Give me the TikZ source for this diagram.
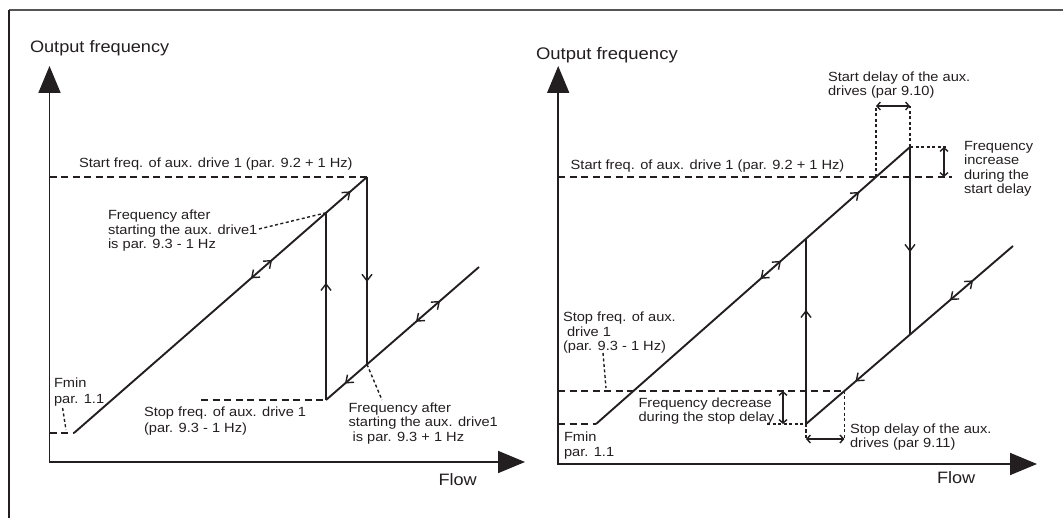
\documentclass[tikz,border=0pt]{standalone}
\usepackage{fontspec}
\setmainfont[FakeStretch=1.1]{Liberation Sans}
\usetikzlibrary{arrows.meta,decorations.markings}

\begin{document}
\begin{tikzpicture}[x=1pt,y=-1pt,
  ink/.style={draw={rgb,255:red,35;green,31;blue,32}},
  lbl/.style={inner sep=0pt,outer sep=0pt,anchor=base west,text={rgb,255:red,35;green,31;blue,32},font=\fontsize{13.3}{15}\selectfont},
  ttl/.style={lbl,font=\fontsize{16.5}{19}\selectfont},
  axes/.style={ink,line width=1.8pt,{Triangle[length=27pt,width=22pt]}-{Triangle[length=27pt,width=22pt]}},
  ramp/.style={ink,line width=1.9pt},
  jump/.style={ink,line width=1.6pt},
  lvl/.style={ink,line width=1.5pt,dash pattern=on 7pt off 4.5pt},
  hint/.style={ink,line width=1.4pt,dash pattern=on 3pt off 2.5pt},
  delay/.style={ink,line width=1.4pt,{Straight Barb[length=3.5pt,width=8pt]}-{Straight Barb[length=3.5pt,width=8pt]}},
  fwd/.style={postaction={decorate,decoration={markings,mark=at position #1 with {\arrow{Straight Barb[length=6.5pt,width=10pt,line width=1.4pt]}}}}},
  bwd/.style={postaction={decorate,decoration={markings,mark=at position #1 with {\arrowreversed{Straight Barb[length=6.5pt,width=10pt,line width=1.4pt]}}}}}]
\path[use as bounding box] (0,0) rectangle (1063,518);
\draw[line width=1.8pt,draw={rgb,255:red,85;green,85;blue,85}] (9,10) -- (1063,10);
\draw[ink,line width=1.3pt] (9,10) -- (9,518);
% left panel
\coordinate (ly) at (49.5,66);
\coordinate (lo) at (49.5,462);
\coordinate (lx) at (525,462);
\coordinate (lfmin) at (74,433);
\coordinate (ltop) at (367,177);
\coordinate (lbot) at (367,364.4);
\coordinate (lstop) at (326,400);
\coordinate (lhit) at (326,212.8);
\coordinate (lend) at (479,267);
\draw[axes] (ly) -- (lo) -- (lx);
\draw[lvl] (49.5,433) -- (lfmin);
\draw[lvl] (49.5,177) -- (ltop);
\draw[lvl] (201,400) -- (lstop);
\draw[ramp,bwd=0.604,fwd=0.676,fwd=0.944] (lfmin) -- (ltop);
\draw[ramp,bwd=0.124,bwd=0.588,fwd=0.745] (lstop) -- (lend);
\draw[jump,fwd=0.56] (ltop) -- (lbot);
\draw[jump,fwd=0.626] (lstop) -- (lhit);
\draw[hint] (259,229) -- (lhit);
\draw[hint] (62.6,408) -- (66,430);
\draw[hint] (lbot) -- (382,400);
\node[ttl] (lttl) at (30,53) {Output frequency};
\node[ttl] (lflow) at (438.5,485) {Flow};
\node[lbl] (lsf) at (79,168) {Start freq. of aux. drive 1 (par. 9.2 + 1 Hz)};
\node[lbl] (lfa1) at (108,220) {Frequency after};
\node[lbl] (lfa2) at (108,234.5) {starting the aux. drive1};
\node[lbl] (lfa3) at (108,249) {is par. 9.3 - 1 Hz};
\node[lbl] (lfm1) at (54,388) {Fmin};
\node[lbl] (lfm2) at (54,403) {par. 1.1};
\node[lbl] (lss1) at (144,417) {Stop freq. of aux. drive 1};
\node[lbl] (lss2) at (144,432) {(par. 9.3 - 1 Hz)};
\node[lbl] (lfb1) at (348.5,413) {Frequency after};
\node[lbl] (lfb2) at (348.5,427) {starting the aux. drive1};
\node[lbl] (lfb3) at (348.5,441) {\ is par. 9.3 + 1 Hz};
% right panel
\coordinate (ry) at (558.2,66);
\coordinate (ro) at (558.2,464);
\coordinate (rx) at (1037,464);
\coordinate (rfmin) at (596,424);
\coordinate (rtop) at (910,147);
\coordinate (rbot) at (910,334.6);
\coordinate (rstop) at (806,424);
\coordinate (rhit) at (806,238.7);
\coordinate (rend) at (1013,246);
\coordinate (rcross) at (876,177);
\coordinate (rlow) at (844.4,391);
\draw[axes] (ry) -- (ro) -- (rx);
\draw[lvl] (558.2,424) -- (rfmin);
\draw[lvl] (558.2,177) -- (952,177);
\draw[lvl] (558.2,391) -- (rlow);
\draw[ramp,bwd=0.524,fwd=0.589,fwd=0.838] (rfmin) -- (rtop);
\draw[ramp,bwd=0.239,bwd=0.696,fwd=0.807] (rstop) -- (rend);
\draw[jump,fwd=0.56] (rtop) -- (rbot);
\draw[jump,fwd=0.616] (rstop) -- (rhit);
\draw[hint] (rcross) -- (876,106);
\draw[hint] (rtop) -- (910,106);
\draw[delay] (876,106) -- (910,106);
\draw[hint] (rtop) -- (948,147);
\draw[delay] (944,147) -- (944,177);
\draw[hint] (767,424) -- (rstop);
\draw[delay] (783,391) -- (783,424);
\draw[hint] (rlow) -- (844.4,440);
\draw[hint] (rstop) -- (806,440);
\draw[delay] (806,439) -- (844.4,439);
\draw[hint] (603,353) -- (606,388);
\node[ttl,font=\fontsize{16.8}{19}\selectfont] (rttl) at (536,60) {Output frequency};
\node[ttl] (rflow) at (937,483) {Flow};
\node[lbl] (rsd1) at (828,82) {Start delay of the aux.};
\node[lbl] (rsd2) at (828,95.5) {drives (par 9.10)};
\node[lbl] (rsf) at (570.7,170) {Start freq. of aux. drive 1 (par. 9.2 + 1 Hz)};
\node[lbl] (rfi1) at (964,150.5) {Frequency};
\node[lbl] (rfi2) at (964,165) {increase};
\node[lbl] (rfi3) at (964,179.5) {during the};
\node[lbl] (rfi4) at (964,194) {start delay};
\node[lbl] (rss1) at (563,322) {Stop freq. of aux.};
\node[lbl] (rss2) at (563,336.5) {\ drive 1};
\node[lbl] (rss3) at (563,351) {(par. 9.3 - 1 Hz)};
\node[lbl] (rfd1) at (638.5,407) {Frequency decrease};
\node[lbl] (rfd2) at (638.5,421) {during the stop delay};
\node[lbl] (rsl1) at (850,434) {Stop delay of the aux.};
\node[lbl] (rsl2) at (850,447) {drives (par 9.11)};
\node[lbl] (rfm1) at (564,442) {Fmin};
\node[lbl] (rfm2) at (564,456) {par. 1.1};
\end{tikzpicture}
\end{document}
